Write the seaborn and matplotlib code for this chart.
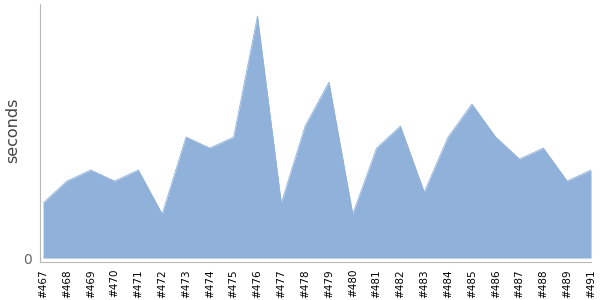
import matplotlib
matplotlib.use("Agg")
import matplotlib.pyplot as plt
import seaborn as sns
import pandas as pd
import numpy as np

builds = ["#467", "#468", "#469", "#470", "#471", "#472", "#473", "#474", "#475", "#476",
          "#477", "#478", "#479", "#480", "#481", "#482", "#483", "#484", "#485", "#486",
          "#487", "#488", "#489", "#491"]
seconds = [5, 7, 8, 7, 8, 4, 11, 10, 11, 22, 5, 12, 16, 4, 10, 12, 6, 11, 14, 11, 9, 10, 7, 8]

df = pd.DataFrame({"build": builds, "seconds": seconds})
df["pos"] = np.arange(len(df))

sns.set_style("white")
plt.rcParams['font.family'] = ['DejaVu Sans']

fig = plt.figure(figsize=(6, 3), dpi=100)
ax = fig.add_axes([40/600, 1 - 262/300, 551/600, 258/300])

color = "#8fb1da"
sns.lineplot(data=df, x="pos", y="seconds", ax=ax, color=color, linewidth=0.6)
ax.fill_between(df["pos"], 0, df["seconds"], color=color, linewidth=0)

ax.set_xlim(-0.13, len(df) - 1)
ax.set_ylim(-0.36, 23.1)

ax.set_xticks(df["pos"])
ax.set_xticklabels(df["build"], rotation=90, fontsize=7.5, color="black")
ax.set_yticks([0])
ax.set_yticklabels(["0"], fontsize=10, color="#666666")
ax.tick_params(axis="x", length=3, width=0.8, color="#b0b0b0", pad=2)
ax.tick_params(axis="y", length=3, width=0.8, color="#b0b0b0", pad=3)

ax.set_xlabel("")
ax.set_ylabel("")
fig.text(13/600, 1 - 130/300, "seconds", rotation=90, ha="center", va="center",
         fontsize=11.5, color="#444444")

for s in ["top", "right"]:
    ax.spines[s].set_visible(False)
for s in ["left", "bottom"]:
    ax.spines[s].set_color("#b8b8b8")
    ax.spines[s].set_linewidth(0.8)

fig.savefig("out.png", dpi=100)
